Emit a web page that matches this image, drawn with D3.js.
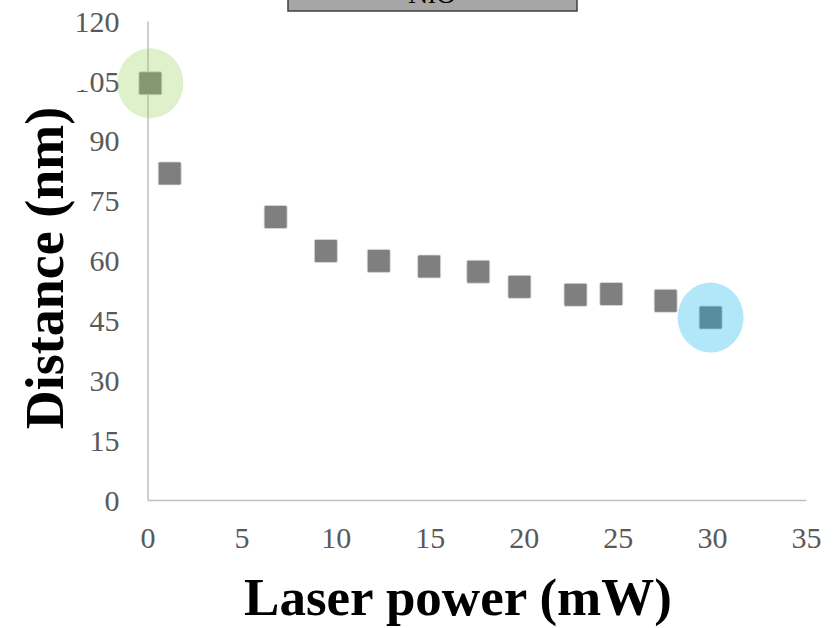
<!DOCTYPE html>
<html>
<head>
<meta charset="utf-8">
<script src="https://cdn.jsdelivr.net/npm/d3@7"></script>
<style>
  html, body { margin: 0; padding: 0; background: #ffffff; }
  svg { display: block; }
</style>
</head>
<body>
<svg id="chart" width="836" height="628"></svg>
<script>
// Laser power (mW) vs. measured distance (nm)
const laserPower = [0.15, 1.18, 6.81, 9.48, 12.29, 14.97, 17.58, 19.77, 22.75, 24.65, 27.54, 29.93];
const distance   = [104.4, 81.8, 70.9, 62.4, 59.9, 58.5, 57.2, 53.4, 51.4, 51.6, 49.9, 45.7];
const xTicks = [0, 5, 10, 15, 20, 25, 30, 35];
const yTicks = [0, 15, 30, 45, 60, 75, 90, 105, 120];
// highlighted points: index into the series, and highlight colour
const highlightIndex = [0, 11];
const highlightColor = ["#92D050", "#00B0F0"];
const seriesName = "NiO";

const svg = d3.select("#chart");

const x = d3.scaleLinear().domain([0, 35]).range([147.5, 806]);
const y = d3.scaleLinear().domain([0, 120]).range([500, 21]);

const serif = "'Liberation Serif', 'Times New Roman', serif";
const tickColor = "#595959";
const axisColor = "#bfbfbf";

// axes
const xAxis = d3.axisBottom(x).tickValues(xTicks).tickSize(0).tickPadding(31).tickFormat(d3.format("d"));
const yAxis = d3.axisLeft(y).tickValues(yTicks).tickSize(0).tickPadding(28).tickFormat(d3.format("d"));

const gx = svg.append("g").attr("transform", `translate(0,${y(0)})`).call(xAxis);
const gy = svg.append("g").attr("transform", `translate(${x(0)},0)`).call(yAxis);

[gx, gy].forEach(g => {
  g.select(".domain").attr("stroke", axisColor).attr("stroke-width", 1.5);
  g.selectAll("text")
    .attr("fill", tickColor)
    .style("font-family", serif)
    .style("font-size", "30px");
});
gx.selectAll("text").attr("dy", "0.55em");
gy.selectAll("text").attr("dy", "0.34em");

// the title text box hides most of the leading "1" of the 105 label
gy.selectAll(".tick").filter(d => d === 105).each(function () {
  const bb = this.querySelector("text").getBBox();
  svg.append("rect")
    .attr("x", x(0) + bb.x + 2)
    .attr("y", y(105) - 8)
    .attr("width", 12)
    .attr("height", 17)
    .attr("fill", "#ffffff");
});

// series name box at the top
const boxG = svg.append("g");
boxG.append("rect")
  .attr("x", 288).attr("y", -30).attr("width", 289).attr("height", 41)
  .attr("fill", "#a6a6a6").attr("stroke", "#404040").attr("stroke-width", 1.5);
boxG.append("text")
  .attr("x", 432).attr("y", 3)
  .attr("text-anchor", "middle")
  .style("font-family", serif).style("font-size", "28px")
  .attr("fill", "#000")
  .text(seriesName);

// data points
const pts = laserPower.map((p, i) => ({ p, d: distance[i] }));
const s = 23;
svg.append("g").selectAll("rect")
  .data(pts)
  .join("rect")
  .attr("x", d => x(d.p) - s / 2)
  .attr("y", d => y(d.d) - s / 2)
  .attr("width", s).attr("height", s)
  .attr("rx", 1.5)
  .attr("fill", "#7f7f7f")
  .attr("stroke", "#dcdcdc").attr("stroke-width", 0.8);

// translucent highlight ellipses over selected points
svg.append("g").selectAll("ellipse")
  .data(highlightIndex)
  .join("ellipse")
  .attr("cx", i => x(laserPower[i]))
  .attr("cy", i => y(distance[i]))
  .attr("rx", 33).attr("ry", 35)
  .attr("fill", (i, k) => highlightColor[k])
  .attr("fill-opacity", 0.3);

// axis titles
svg.append("text")
  .attr("x", 458).attr("y", 615)
  .attr("text-anchor", "middle")
  .style("font-family", serif).style("font-size", "53px").style("font-weight", "bold")
  .attr("fill", "#000")
  .text("Laser power (mW)");

svg.append("text")
  .attr("transform", "translate(63,268) rotate(-90)")
  .attr("text-anchor", "middle")
  .style("font-family", serif).style("font-size", "54px").style("font-weight", "bold")
  .attr("fill", "#000")
  .text("Distance (nm)");
</script>
</body>
</html>
